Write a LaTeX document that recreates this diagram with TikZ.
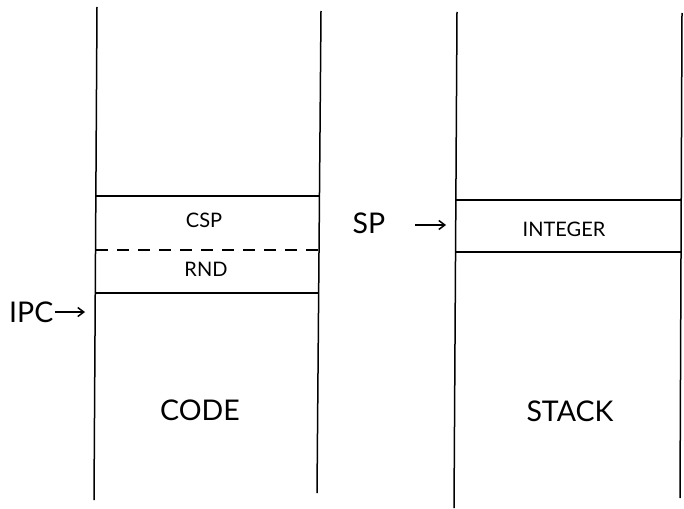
\documentclass[tikz,border=0pt]{standalone}
\usepackage{fontspec}
\setmainfont{Lato}
\usetikzlibrary{arrows.meta}
\begin{document}
\begin{tikzpicture}[x=1pt,y=-1pt,
  wall/.style={line width=1.5pt},
  sep/.style={line width=2pt},
  dsep/.style={line width=2pt,dash pattern=on 12pt off 9pt},
  small/.style={font=\fontsize{20}{23}\selectfont},
  big/.style={font=\fontsize{28.5}{32}\selectfont},
  ptr/.style={-{Straight Barb[length=6pt,width=9pt]},line width=1.5pt}]
\useasboundingbox (0,0) rectangle (684,508);
% code column
\draw[wall] (97,7) -- (94,500);
\draw[wall] (321,11) -- (317,493);
\draw[sep] (96,196) -- (320,196);
\draw[dsep] (96,250) -- (320,250);
\draw[sep] (95,293) -- (319,293);
\node[small] (csp) at (204,220) {CSP};
\node[small] (rnd) at (206,269) {RND};
\node[big] (code) at (200,410) {CODE};
\node[big,anchor=west,inner sep=0pt] (ipc) at (9,312) {IPC};
\coordinate (ipcs) at (55,312);
\coordinate (ipct) at (85,312);
\draw[ptr] (ipcs) -- (ipct);
% stack column
\draw[wall] (457,12) -- (454,508);
\draw[wall] (682,13) -- (680,498);
\draw[sep] (456,200) -- (682,200);
\draw[sep] (456,252) -- (682,252);
\node[small] (int) at (564,229) {INTEGER};
\node[big] (stack) at (570,411) {STACK};
\node[big] (sp) at (369,223) {SP};
\coordinate (sps) at (415,225);
\coordinate (spt) at (446,225);
\draw[ptr] (sps) -- (spt);
\end{tikzpicture}
\end{document}
